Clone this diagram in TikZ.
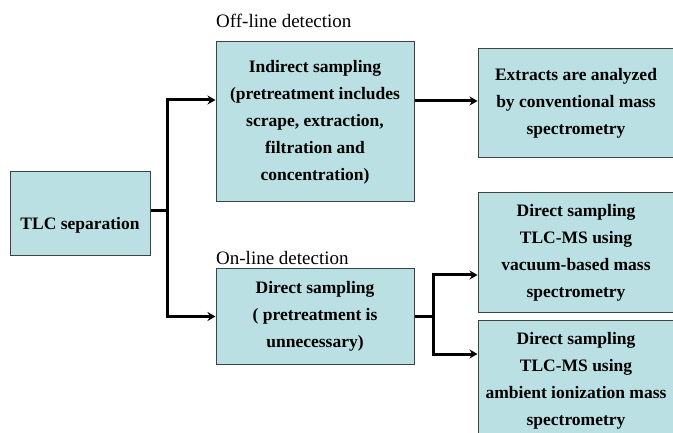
\documentclass[tikz,border=0pt]{standalone}
\usepackage{fontspec}
\setmainfont{Liberation Serif}
\usetikzlibrary{arrows.meta,calc}
\definecolor{boxfill}{RGB}{186,224,228}
\definecolor{boxline}{RGB}{60,68,70}
\tikzset{
  box/.style={draw=boxline, line width=1pt, fill=boxfill, align=center,
    font=\fontsize{17.5}{27}\selectfont\bfseries, inner sep=0pt},
  tag/.style={anchor=west, font=\fontsize{19}{20}\selectfont, inner sep=0pt},
  link/.style={line width=3pt, line cap=butt},
  arr/.style={link, -{Stealth[length=8pt,width=9pt]}}
}
\begin{document}
\begin{tikzpicture}[x=1pt,y=-1pt]
\clip (0,0) rectangle (673,433);
\fill[white] (0,0) rectangle (673,433);

% boxes
\node[box, minimum width=140pt, minimum height=84pt] (tlc) at (80,214)
  {\raisebox{-16pt}[0pt][0pt]{TLC separation}};
\node[box, minimum width=198pt, minimum height=160pt] (ind) at (315,122)
  {Indirect sampling\\(pretreatment includes\\scrape, extraction,\\filtration and\\concentration)};
\node[box, minimum width=196pt, minimum height=109pt] (ext) at (576,103.5)
  {Extracts are analyzed\\by conventional mass\\spectrometry};
\node[box, minimum width=198pt, minimum height=95pt] (dir) at (315,316.5)
  {Direct sampling\\( pretreatment is\\unnecessary)};
\node[box, minimum width=196pt, minimum height=119pt] (vac) at (576,252.5)
  {Direct sampling\\TLC-MS using\\vacuum-based mass\\spectrometry};
\node[box, minimum width=196pt, minimum height=122pt] (amb) at (576,381)
  {Direct sampling\\TLC-MS using\\ambient ionization mass\\spectrometry};

% labels
\node[tag] (off) at (216,21) {Off-line detection};
\node[tag] (on) at (216,258) {On-line detection};

% connectors
\coordinate (j1) at (167,211);
\coordinate (j2) at (433,316.5);
\draw[link] (tlc.east |- j1) -- (j1);
\draw[arr] ($(j1)+(0,1.5)$) |- ($(ind.west)+(0,-22)$);
\draw[arr] ($(j1)+(0,-1.5)$) |- (dir.west);
\draw[arr] ($(ind.east)+(0,-21)$) -- ($(ext.west)+(0,-2.5)$);
\draw[link] (dir.east) -- (j2);
\draw[arr] ($(j2)+(0,1.5)$) |- ($(vac.west)+(0,22.5)$);
\draw[arr] ($(j2)+(0,-1.5)$) |- ($(amb.west)+(0,-27)$);
\end{tikzpicture}
\end{document}
